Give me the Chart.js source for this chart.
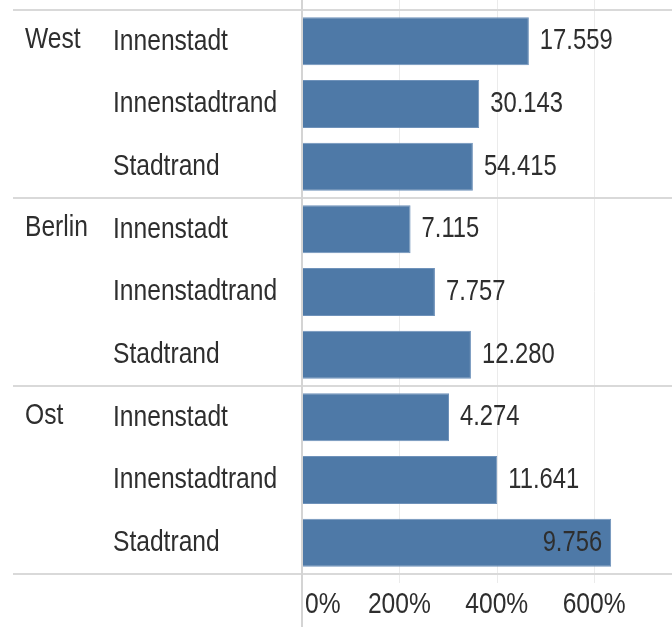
<!DOCTYPE html>
<html>
<head>
<meta charset="utf-8">
<script src="https://cdn.jsdelivr.net/npm/chart.js@4.4.1/dist/chart.umd.min.js"></script>
<style>
  html, body { margin: 0; padding: 0; background: #fff; }
  #wrap { width: 672px; height: 627px; position: relative; }
</style>
</head>
<body>
<div id="wrap"><canvas id="barChart"></canvas></div>
<script>
const regions = ["West", "Berlin", "Ost"];
const areas = ["Innenstadt", "Innenstadtrand", "Stadtrand"];
const pctValues = [466, 364, 351, 223, 273, 347, 302, 401, 635];
const countLabels = ["17.559", "30.143", "54.415", "7.115", "7.757", "12.280", "4.274", "11.641", "9.756"];
const xTicks = [0, 200, 400, 600];

const family = "'Liberation Sans', Arial, sans-serif";
const squeeze = 0.82;   // the reference uses a narrow face
const textColor = "#2e2e2e";

const categories = [];
regions.forEach(r=>{
    areas.forEach(a=>{
        categories.push(a);
    });
});

/* draw narrow text: scale x only */
function narrowText(ctx, txt, x, y, align, size){
    ctx.save();
    ctx.font = size + "px " + family;
    ctx.textAlign = align;
    ctx.textBaseline = "middle";
    ctx.translate(x, y);
    ctx.scale(squeeze, 1);
    ctx.fillText(txt, 0, 0);
    ctx.restore();
}

function narrowWidth(ctx, txt, size){
    ctx.save();
    ctx.font = size + "px " + family;
    const w = ctx.measureText(txt).width * squeeze;
    ctx.restore();
    return w;
}

/* ================================
   TABLE LINES, LABELS, VALUES
================================ */

const tablePlugin = {
    id: "tableLook",
    beforeDatasetsDraw(chart){
        const ctx = chart.ctx;
        const x = chart.scales.x;
        const area = chart.chartArea;
        ctx.save();
        ctx.strokeStyle = "#ebebeb";
        ctx.lineWidth = 1;
        xTicks.forEach(v=>{
            if(v === 0) return;
            const px = Math.round(x.getPixelForValue(v)) + 0.5;
            ctx.beginPath();
            ctx.moveTo(px, 0);
            ctx.lineTo(px, area.bottom + 9);
            ctx.stroke();
        });
        ctx.restore();
    },
    afterDraw(chart){
        const ctx = chart.ctx;
        const x = chart.scales.x;
        const y = chart.scales.y;
        const area = chart.chartArea;
        const step = y.getPixelForValue(1) - y.getPixelForValue(0);

        ctx.save();

        /* horizontal separators */
        ctx.strokeStyle = "#d9d9d9";
        ctx.lineWidth = 2;
        for(let g=0; g<=regions.length; g++){
            const py = Math.round(y.getPixelForValue(g*areas.length) - step/2);
            ctx.beginPath();
            ctx.moveTo(13, py);
            ctx.lineTo(chart.width, py);
            ctx.stroke();
        }

        /* zero axis */
        const zx = Math.round(x.getPixelForValue(0));
        ctx.strokeStyle = "#d4d4d4";
        ctx.beginPath();
        ctx.moveTo(zx, 0);
        ctx.lineTo(zx, chart.height);
        ctx.stroke();

        ctx.fillStyle = textColor;

        /* group labels */
        regions.forEach((r,i)=>{
            narrowText(ctx, r, 25, y.getPixelForValue(i*areas.length) - 2, "left", 30);
        });

        /* category labels */
        chart.data.labels.forEach((lab,i)=>{
            narrowText(ctx, lab, y.left, y.getPixelForValue(i), "left", 30);
        });

        /* x tick labels */
        xTicks.forEach(v=>{
            const px = x.getPixelForValue(v);
            if(v === 0){
                narrowText(ctx, v + "%", px + 3, 605, "left", 30);
            } else {
                narrowText(ctx, v + "%", px, 605, "center", 30);
            }
        });

        /* value labels */
        const meta = chart.getDatasetMeta(0);
        meta.data.forEach((bar,i)=>{
            const txt = countLabels[i];
            const w = narrowWidth(ctx, txt, 29);
            if(bar.x + 11 + w > area.right){
                narrowText(ctx, txt, bar.x - 9, bar.y, "right", 29);
            } else {
                narrowText(ctx, txt, bar.x + 11, bar.y, "left", 29);
            }
        });

        ctx.restore();
    }
};

const barChart = document.getElementById("barChart");

new Chart(barChart.getContext("2d"),{
    type: "bar",
    data: {
        labels: categories,
        datasets: [{
            data: pctValues,
            backgroundColor: "#4e79a7",
            borderColor: "#6f92ba",
            borderWidth: 1,
            borderSkipped: false,
            barPercentage: 0.766,
            categoryPercentage: 1
        }]
    },
    options: {
        indexAxis: "y",
        responsive: true,
        maintainAspectRatio: false,
        animation: false,
        layout: {
            padding: { left: 113, top: 10, right: 0, bottom: 0 }
        },
        plugins: {
            legend: { display: false },
            tooltip: { enabled: false }
        },
        scales: {
            x: {
                min: 0,
                max: 760,
                ticks: { display: false, stepSize: 200 },
                grid: { display: false, drawTicks: false },
                border: { display: false },
                afterFit(scale){ scale.height = 53; }
            },
            y: {
                ticks: { display: false },
                grid: { display: false, drawTicks: false },
                border: { display: false },
                afterFit(scale){ scale.width = 189; }
            }
        }
    },
    plugins: [tablePlugin]
});
</script>
</body>
</html>
